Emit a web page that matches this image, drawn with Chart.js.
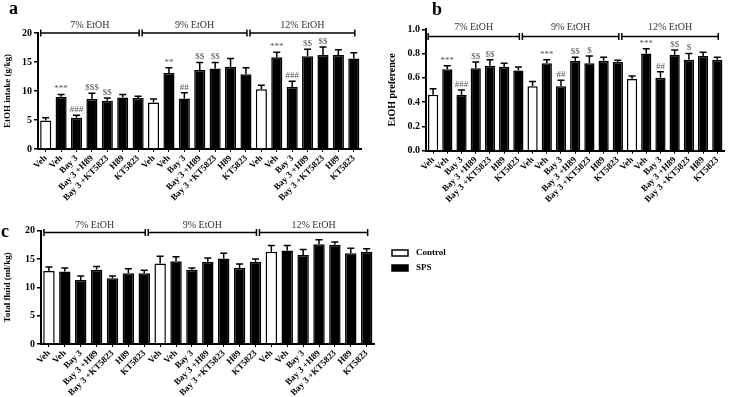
<!DOCTYPE html>
<html>
<head>
<meta charset="utf-8">
<script src="https://cdn.jsdelivr.net/npm/chart.js@4.4.0/dist/chart.umd.min.js"></script>
<style>
body { margin: 0; background: #fff; width: 730px; height: 397px; position: relative; overflow: hidden; }
canvas { position: absolute; }
</style>
</head>
<body>
<canvas id="panel_a" width="370" height="215" style="left:0;top:0;width:370px;height:215px"></canvas>
<canvas id="panel_b" width="360" height="215" style="left:370px;top:0;width:360px;height:215px"></canvas>
<canvas id="panel_c" width="480" height="182" style="left:0;top:215px;width:480px;height:182px"></canvas>
<script>
// categories
const groups = ['7% EtOH', '9% EtOH', '12% EtOH'];
const treatments = ['Veh', 'Veh', 'Bay 3', 'Bay 3 +H89', 'Bay 3 +KT5823', 'H89', 'KT5823'];
const controlSlots = [0, 7, 14]; // white bars = Control, others = SPS
const seriesNames = ['Control', 'SPS'];

// a : EtOH intake (g/kg)
const intakeMean = [4.9, 9.0, 5.4, 8.6, 8.3, 8.9, 8.8, 8.0, 13.1, 8.7, 13.6, 13.9, 14.2, 12.9, 10.3, 15.8, 10.7, 16.0, 16.2, 16.2, 15.6];
const intakeSem = [0.5, 0.4, 0.4, 1.0, 0.5, 0.5, 0.3, 0.6, 0.9, 1.0, 1.3, 1.0, 1.4, 1.1, 0.7, 0.9, 1.0, 1.2, 1.4, 0.9, 1.0];
const intakeMarks = ['', '***', '###', '$$$', '$$', '', '', '', '**', '##', '$$', '$$', '', '', '', '***', '###', '$$', '$$', '', ''];
const intakeTicks = [0, 5, 10, 15, 20];

// b : EtOH preference
const prefMean = [0.46, 0.67, 0.46, 0.68, 0.70, 0.69, 0.66, 0.53, 0.72, 0.53, 0.74, 0.72, 0.74, 0.73, 0.59, 0.80, 0.60, 0.79, 0.75, 0.78, 0.75];
const prefSem = [0.05, 0.03, 0.04, 0.05, 0.05, 0.03, 0.03, 0.04, 0.03, 0.05, 0.03, 0.06, 0.03, 0.015, 0.025, 0.04, 0.05, 0.04, 0.05, 0.03, 0.02];
const prefMarks = ['', '***', '###', '$$', '$$', '', '', '', '***', '##', '$$', '$', '', '', '', '***', '##', '$$', '$', '', ''];
const prefTicks = [0, 0.2, 0.4, 0.6, 0.8, 1.0];

// c : Total fluid (ml/kg)
const fluidMean = [12.9, 12.8, 11.3, 13.1, 11.6, 12.5, 12.5, 14.2, 14.6, 13.1, 14.5, 15.1, 13.4, 14.5, 16.3, 16.5, 15.7, 17.6, 17.5, 16.0, 16.3];
const fluidSem = [0.7, 0.6, 0.7, 0.6, 0.4, 0.8, 0.5, 1.3, 0.8, 0.3, 0.7, 0.9, 0.7, 0.5, 1.1, 0.9, 1.0, 0.8, 0.5, 0.9, 0.5];
const fluidTicks = [0, 5, 10, 15, 20];

const FONT = 'Liberation Serif';
const labels = groups.flatMap(() => treatments);

function buildDatasets(mean) {
    return [{
        label: seriesNames[0],
        data: mean.map((v, i) => controlSlots.includes(i) ? v : null),
        backgroundColor: '#ffffff',
        borderColor: '#000000',
        borderWidth: 1.5
    }, {
        label: seriesNames[1],
        data: mean.map((v, i) => controlSlots.includes(i) ? null : v),
        backgroundColor: '#000000',
        borderColor: '#000000',
        borderWidth: 1.5
    }];
}

// error bars, significance marks, concentration brackets, panel letter, legend
const decorPlugin = {
    id: 'decor',
    afterDatasetsDraw(chart, args, o) {
        const { ctx } = chart;
        const x = chart.scales.x, y = chart.scales.y;
        ctx.save();
        ctx.strokeStyle = '#000';
        ctx.lineWidth = 1.5;
        o.mean.forEach((m, i) => {
            const cx = x.getPixelForValue(i);
            const yb = y.getPixelForValue(m);
            const yt = y.getPixelForValue(m + o.sem[i]);
            ctx.beginPath();
            ctx.moveTo(cx, yb); ctx.lineTo(cx, yt);
            ctx.moveTo(cx - 3.5, yt); ctx.lineTo(cx + 3.5, yt);
            ctx.stroke();
            if (o.marks && o.marks[i]) {
                ctx.fillStyle = '#555';
                ctx.font = '9px ' + FONT;
                ctx.textAlign = 'center';
                ctx.textBaseline = 'bottom';
                ctx.fillText(o.marks[i], cx, yt - 1);
            }
        });

        // brackets
        const by = y.getPixelForValue(o.bracketAt);
        groups.forEach((g, k) => {
            const x0 = k === 0 ? x.getPixelForValue(0) - 5 : x.getPixelForValue(7 * k - 1) + 4;
            const x1 = x.getPixelForValue(7 * k + 6) + 1;
            ctx.lineWidth = 1.5;
            ctx.beginPath();
            ctx.moveTo(x0, by); ctx.lineTo(x1, by);
            ctx.moveTo(x0, by - 3.5); ctx.lineTo(x0, by + 3.5);
            ctx.moveTo(x1, by - 3.5); ctx.lineTo(x1, by + 3.5);
            ctx.stroke();
            ctx.fillStyle = '#333';
            ctx.font = '10px ' + FONT;
            ctx.textAlign = 'center';
            ctx.textBaseline = 'bottom';
            ctx.fillText(g, (x0 + x1) / 2, by - o.textGap);
        });

        // panel letter
        ctx.fillStyle = '#000';
        ctx.font = 'bold 18px ' + FONT;
        ctx.textAlign = 'left';
        ctx.textBaseline = 'alphabetic';
        ctx.fillText(o.letter, o.letterX, o.letterY);

        // legend
        if (o.legend) {
            chart.data.datasets.forEach((ds, i) => {
                const lx = o.legend.x, ly = o.legend.y + i * o.legend.step;
                ctx.fillStyle = ds.backgroundColor;
                ctx.fillRect(lx, ly - 3, 16, 6);
                ctx.lineWidth = 1.5;
                ctx.strokeRect(lx, ly - 3, 16, 6);
                ctx.fillStyle = '#000';
                ctx.font = 'bold 9px ' + FONT;
                ctx.textBaseline = 'middle';
                ctx.fillText(ds.label, lx + 24, ly);
            });
        }
        ctx.restore();
    }
};

function makePanel(id, p) {
    const canvas = document.getElementById(id);
    if (!canvas) { console.error("Canvas '" + id + "' non trouvé !"); return; }
    new Chart(canvas.getContext('2d'), {
        type: 'bar',
        data: { labels: labels, datasets: buildDatasets(p.mean) },
        options: {
            responsive: false,
            animation: false,
            devicePixelRatio: 1,
            layout: { padding: p.padding },
            datasets: { bar: { grouped: false, categoryPercentage: 1, barPercentage: 0.72, borderSkipped: 'start' } },
            plugins: {
                legend: { display: false },
                tooltip: { enabled: false },
                decor: p.decor
            },
            scales: {
                x: {
                    afterFit: s => { s.height = p.xHeight; },
                    border: { color: '#000', width: 2 },
                    grid: { display: true, drawOnChartArea: false, offset: false, color: '#000', lineWidth: 1, tickLength: 3 },
                    ticks: {
                        color: '#000', autoSkip: false, minRotation: 45, maxRotation: 45, padding: 1,
                        font: { family: FONT, size: 9, weight: 'bold' }
                    }
                },
                y: {
                    min: p.ticks[0],
                    max: p.ticks[p.ticks.length - 1],
                    afterFit: s => { s.width = p.yWidth; },
                    afterBuildTicks: s => { s.ticks = p.ticks.map(v => ({ value: v })); },
                    border: { color: '#000', width: 2 },
                    grid: { display: true, drawOnChartArea: false, color: '#000', lineWidth: 1.5, tickLength: 4 },
                    ticks: {
                        color: '#000', padding: 2,
                        font: { family: FONT, size: 10, weight: 'bold' },
                        callback: v => p.fmt(v)
                    },
                    title: {
                        display: true, text: p.title, color: '#000',
                        padding: { top: 2, bottom: 0 },
                        font: { family: FONT, size: p.titleSize, weight: 'bold' }
                    }
                }
            }
        },
        plugins: [decorPlugin]
    });
}

makePanel('panel_a', {
    mean: intakeMean, ticks: intakeTicks, fmt: v => String(v),
    title: 'EtOH intake (g/kg)', titleSize: 9,
    padding: { left: 0, top: 33, right: 8.5, bottom: 0 }, yWidth: 38, xHeight: 66,
    decor: { mean: intakeMean, sem: intakeSem, marks: intakeMarks, bracketAt: 20, textGap: 3, letter: 'a', letterX: 9, letterY: 14 }
});

makePanel('panel_b', {
    mean: prefMean, ticks: prefTicks, fmt: v => v.toFixed(1),
    title: 'EtOH preference', titleSize: 10,
    padding: { left: 14, top: 29.3, right: 5.6, bottom: 0 }, yWidth: 42, xHeight: 64.3,
    decor: { mean: prefMean, sem: prefSem, marks: prefMarks, bracketAt: 0.94, textGap: 4, letter: 'b', letterX: 62, letterY: 15 }
});

makePanel('panel_c', {
    mean: fluidMean, ticks: fluidTicks, fmt: v => String(v),
    title: 'Total fluid (ml/kg)', titleSize: 9,
    padding: { left: 0, top: 15.7, right: 105.4, bottom: 0 }, yWidth: 41, xHeight: 53,
    decor: { mean: fluidMean, sem: fluidSem, marks: null, bracketAt: 19.7, textGap: 2, letter: 'c', letterX: 1, letterY: 22,
             legend: { x: 392, y: 38, step: 15 } }
});
</script>
</body>
</html>
